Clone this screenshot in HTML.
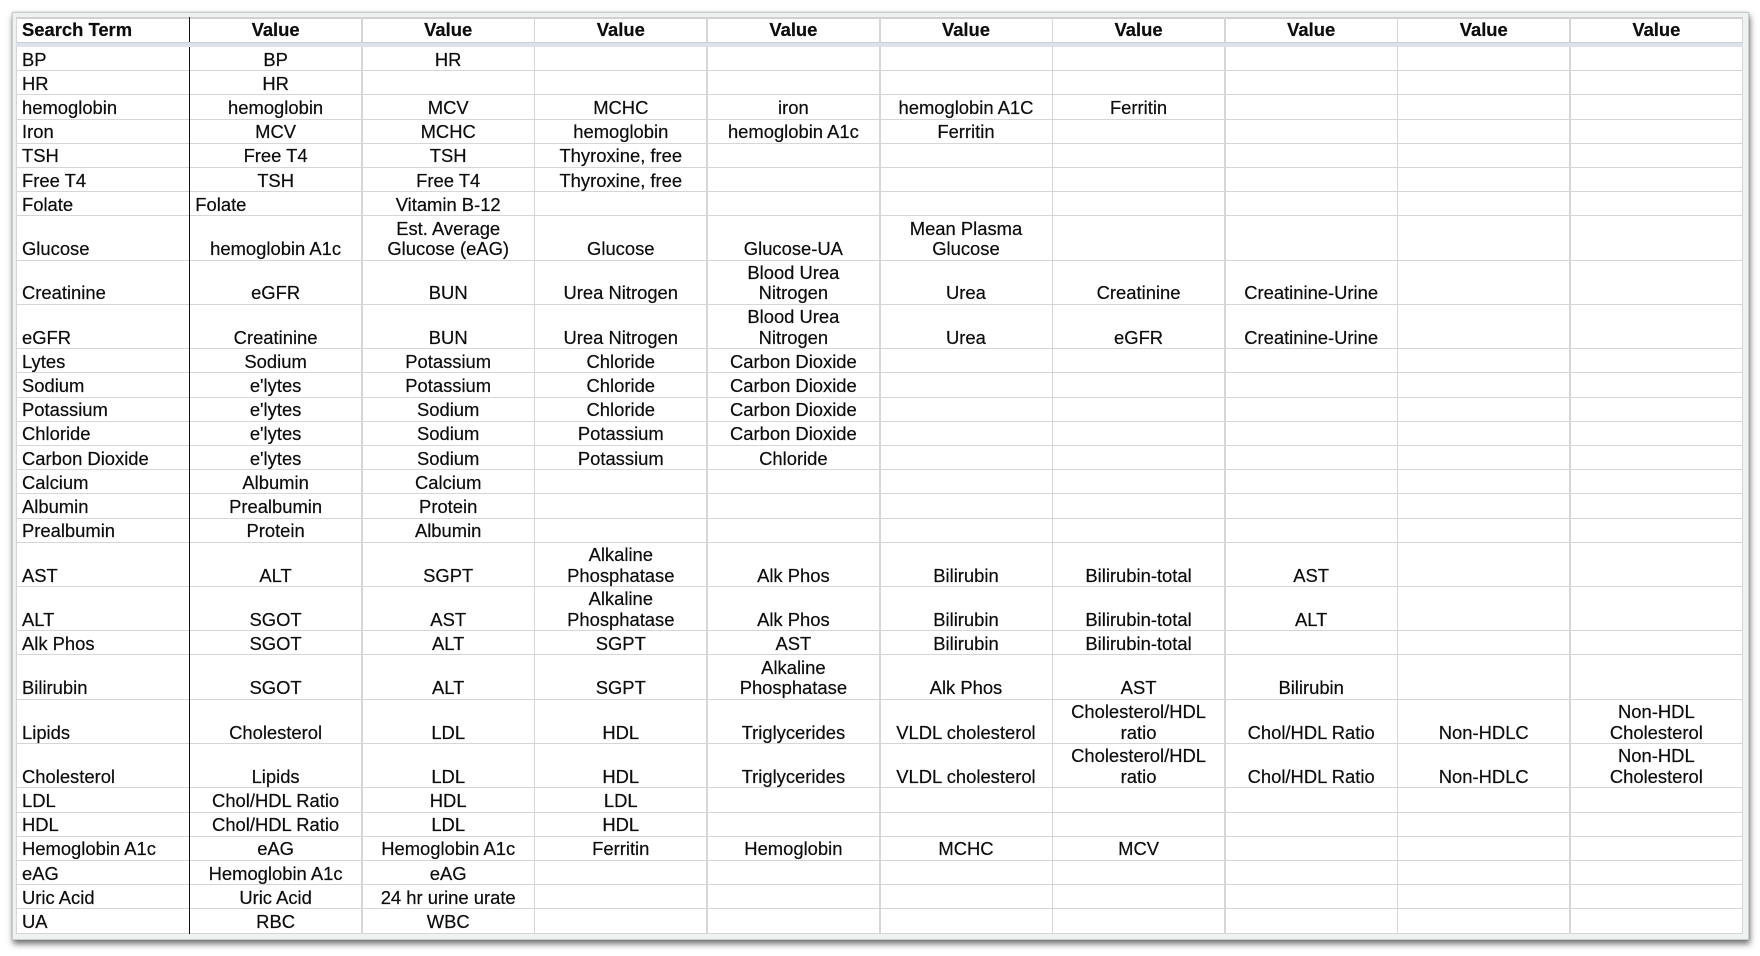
<!DOCTYPE html>
<html>
<head>
<meta charset="utf-8">
<style>
html,body{margin:0;padding:0;background:#fff;}
body{width:1760px;height:956px;position:relative;overflow:hidden;font-family:"Liberation Sans",Arial,sans-serif;color:#0d0d0d;}
#card{position:absolute;left:12px;top:12px;width:1737px;height:928px;background:#eef2f1;border:1px solid #c9cdcc;box-sizing:border-box;box-shadow:1px 4px 6px rgba(0,0,0,0.55), 0 0 2px rgba(0,0,0,0.2);}
#tbl{position:absolute;left:16px;top:17px;width:1727px;height:917px;background:#fff;}
.hdr{position:absolute;left:0;top:0;width:1727px;height:24.5px;display:flex;align-items:flex-end;font-weight:bold;}
.band{position:absolute;left:0;top:24.5px;width:1727px;height:5.5px;background:#dde1e9;border-top:1px solid #cbced6;box-sizing:border-box;z-index:3;}
.rows{position:absolute;left:0;top:30px;width:1727px;}
.r{display:flex;align-items:flex-end;height:24.2px;border-bottom:1.5px solid #d6d6d6;box-sizing:border-box;}
.r.d{height:44.3px;}
.c{width:172.6px;flex:none;text-align:center;white-space:nowrap;font-size:18.4px;line-height:20.5px;box-sizing:border-box;padding:0 4px;-webkit-text-stroke:0.2px #0d0d0d;}
.c.f{width:173.3px;text-align:left;padding-left:6px;}
.c.l{text-align:left;padding-left:6px;}
.hdr .c{padding-bottom:1px;}
.vl{position:absolute;top:0;width:1.5px;height:917px;background:#d6d6d6;z-index:2;}
.vb{position:absolute;top:0;width:1.6px;height:917px;background:#111;z-index:2;}
.hl{position:absolute;left:0;top:0;width:1727px;height:1.5px;background:#d0d0d0;z-index:2;}
</style>
</head>
<body>
<div id="card"></div>
<div id="tbl">
  <div class="hl"></div>
  <div class="vl" style="left:-0.5px"></div>
  <div class="vb" style="left:172.5px"></div>
  <div class="vl" style="left:345.2px"></div>
  <div class="vl" style="left:517.8px"></div>
  <div class="vl" style="left:690.4px"></div>
  <div class="vl" style="left:863.0px"></div>
  <div class="vl" style="left:1035.6px"></div>
  <div class="vl" style="left:1208.2px"></div>
  <div class="vl" style="left:1380.8px"></div>
  <div class="vl" style="left:1553.4px"></div>
  <div class="vl" style="left:1725.5px"></div>

  <div class="hdr">
    <div class="c f">Search Term</div><div class="c">Value</div><div class="c">Value</div><div class="c">Value</div><div class="c">Value</div><div class="c">Value</div><div class="c">Value</div><div class="c">Value</div><div class="c">Value</div><div class="c">Value</div>
  </div>
  <div class="band"></div>

  <div class="rows">
    <div class="r"><div class="c f">BP</div><div class="c">BP</div><div class="c">HR</div><div class="c"></div><div class="c"></div><div class="c"></div><div class="c"></div><div class="c"></div><div class="c"></div><div class="c"></div></div>
    <div class="r"><div class="c f">HR</div><div class="c">HR</div><div class="c"></div><div class="c"></div><div class="c"></div><div class="c"></div><div class="c"></div><div class="c"></div><div class="c"></div><div class="c"></div></div>
    <div class="r"><div class="c f">hemoglobin</div><div class="c">hemoglobin</div><div class="c">MCV</div><div class="c">MCHC</div><div class="c">iron</div><div class="c">hemoglobin A1C</div><div class="c">Ferritin</div><div class="c"></div><div class="c"></div><div class="c"></div></div>
    <div class="r"><div class="c f">Iron</div><div class="c">MCV</div><div class="c">MCHC</div><div class="c">hemoglobin</div><div class="c">hemoglobin A1c</div><div class="c">Ferritin</div><div class="c"></div><div class="c"></div><div class="c"></div><div class="c"></div></div>
    <div class="r"><div class="c f">TSH</div><div class="c">Free T4</div><div class="c">TSH</div><div class="c">Thyroxine, free</div><div class="c"></div><div class="c"></div><div class="c"></div><div class="c"></div><div class="c"></div><div class="c"></div></div>
    <div class="r"><div class="c f">Free T4</div><div class="c">TSH</div><div class="c">Free T4</div><div class="c">Thyroxine, free</div><div class="c"></div><div class="c"></div><div class="c"></div><div class="c"></div><div class="c"></div><div class="c"></div></div>
    <div class="r"><div class="c f">Folate</div><div class="c l">Folate</div><div class="c">Vitamin B-12</div><div class="c"></div><div class="c"></div><div class="c"></div><div class="c"></div><div class="c"></div><div class="c"></div><div class="c"></div></div>
    <div class="r d"><div class="c f">Glucose</div><div class="c">hemoglobin A1c</div><div class="c">Est. Average<br>Glucose (eAG)</div><div class="c">Glucose</div><div class="c">Glucose-UA</div><div class="c">Mean Plasma<br>Glucose</div><div class="c"></div><div class="c"></div><div class="c"></div><div class="c"></div></div>
    <div class="r d"><div class="c f">Creatinine</div><div class="c">eGFR</div><div class="c">BUN</div><div class="c">Urea Nitrogen</div><div class="c">Blood Urea<br>Nitrogen</div><div class="c">Urea</div><div class="c">Creatinine</div><div class="c">Creatinine-Urine</div><div class="c"></div><div class="c"></div></div>
    <div class="r d"><div class="c f">eGFR</div><div class="c">Creatinine</div><div class="c">BUN</div><div class="c">Urea Nitrogen</div><div class="c">Blood Urea<br>Nitrogen</div><div class="c">Urea</div><div class="c">eGFR</div><div class="c">Creatinine-Urine</div><div class="c"></div><div class="c"></div></div>
    <div class="r"><div class="c f">Lytes</div><div class="c">Sodium</div><div class="c">Potassium</div><div class="c">Chloride</div><div class="c">Carbon Dioxide</div><div class="c"></div><div class="c"></div><div class="c"></div><div class="c"></div><div class="c"></div></div>
    <div class="r"><div class="c f">Sodium</div><div class="c">e'lytes</div><div class="c">Potassium</div><div class="c">Chloride</div><div class="c">Carbon Dioxide</div><div class="c"></div><div class="c"></div><div class="c"></div><div class="c"></div><div class="c"></div></div>
    <div class="r"><div class="c f">Potassium</div><div class="c">e'lytes</div><div class="c">Sodium</div><div class="c">Chloride</div><div class="c">Carbon Dioxide</div><div class="c"></div><div class="c"></div><div class="c"></div><div class="c"></div><div class="c"></div></div>
    <div class="r"><div class="c f">Chloride</div><div class="c">e'lytes</div><div class="c">Sodium</div><div class="c">Potassium</div><div class="c">Carbon Dioxide</div><div class="c"></div><div class="c"></div><div class="c"></div><div class="c"></div><div class="c"></div></div>
    <div class="r"><div class="c f">Carbon Dioxide</div><div class="c">e'lytes</div><div class="c">Sodium</div><div class="c">Potassium</div><div class="c">Chloride</div><div class="c"></div><div class="c"></div><div class="c"></div><div class="c"></div><div class="c"></div></div>
    <div class="r"><div class="c f">Calcium</div><div class="c">Albumin</div><div class="c">Calcium</div><div class="c"></div><div class="c"></div><div class="c"></div><div class="c"></div><div class="c"></div><div class="c"></div><div class="c"></div></div>
    <div class="r"><div class="c f">Albumin</div><div class="c">Prealbumin</div><div class="c">Protein</div><div class="c"></div><div class="c"></div><div class="c"></div><div class="c"></div><div class="c"></div><div class="c"></div><div class="c"></div></div>
    <div class="r"><div class="c f">Prealbumin</div><div class="c">Protein</div><div class="c">Albumin</div><div class="c"></div><div class="c"></div><div class="c"></div><div class="c"></div><div class="c"></div><div class="c"></div><div class="c"></div></div>
    <div class="r d"><div class="c f">AST</div><div class="c">ALT</div><div class="c">SGPT</div><div class="c">Alkaline<br>Phosphatase</div><div class="c">Alk Phos</div><div class="c">Bilirubin</div><div class="c">Bilirubin-total</div><div class="c">AST</div><div class="c"></div><div class="c"></div></div>
    <div class="r d"><div class="c f">ALT</div><div class="c">SGOT</div><div class="c">AST</div><div class="c">Alkaline<br>Phosphatase</div><div class="c">Alk Phos</div><div class="c">Bilirubin</div><div class="c">Bilirubin-total</div><div class="c">ALT</div><div class="c"></div><div class="c"></div></div>
    <div class="r"><div class="c f">Alk Phos</div><div class="c">SGOT</div><div class="c">ALT</div><div class="c">SGPT</div><div class="c">AST</div><div class="c">Bilirubin</div><div class="c">Bilirubin-total</div><div class="c"></div><div class="c"></div><div class="c"></div></div>
    <div class="r d"><div class="c f">Bilirubin</div><div class="c">SGOT</div><div class="c">ALT</div><div class="c">SGPT</div><div class="c">Alkaline<br>Phosphatase</div><div class="c">Alk Phos</div><div class="c">AST</div><div class="c">Bilirubin</div><div class="c"></div><div class="c"></div></div>
    <div class="r d"><div class="c f">Lipids</div><div class="c">Cholesterol</div><div class="c">LDL</div><div class="c">HDL</div><div class="c">Triglycerides</div><div class="c">VLDL cholesterol</div><div class="c">Cholesterol/HDL<br>ratio</div><div class="c">Chol/HDL Ratio</div><div class="c">Non-HDLC</div><div class="c">Non-HDL<br>Cholesterol</div></div>
    <div class="r d"><div class="c f">Cholesterol</div><div class="c">Lipids</div><div class="c">LDL</div><div class="c">HDL</div><div class="c">Triglycerides</div><div class="c">VLDL cholesterol</div><div class="c">Cholesterol/HDL<br>ratio</div><div class="c">Chol/HDL Ratio</div><div class="c">Non-HDLC</div><div class="c">Non-HDL<br>Cholesterol</div></div>
    <div class="r"><div class="c f">LDL</div><div class="c">Chol/HDL Ratio</div><div class="c">HDL</div><div class="c">LDL</div><div class="c"></div><div class="c"></div><div class="c"></div><div class="c"></div><div class="c"></div><div class="c"></div></div>
    <div class="r"><div class="c f">HDL</div><div class="c">Chol/HDL Ratio</div><div class="c">LDL</div><div class="c">HDL</div><div class="c"></div><div class="c"></div><div class="c"></div><div class="c"></div><div class="c"></div><div class="c"></div></div>
    <div class="r"><div class="c f">Hemoglobin A1c</div><div class="c">eAG</div><div class="c">Hemoglobin A1c</div><div class="c">Ferritin</div><div class="c">Hemoglobin</div><div class="c">MCHC</div><div class="c">MCV</div><div class="c"></div><div class="c"></div><div class="c"></div></div>
    <div class="r"><div class="c f">eAG</div><div class="c">Hemoglobin A1c</div><div class="c">eAG</div><div class="c"></div><div class="c"></div><div class="c"></div><div class="c"></div><div class="c"></div><div class="c"></div><div class="c"></div></div>
    <div class="r"><div class="c f">Uric Acid</div><div class="c">Uric Acid</div><div class="c">24 hr urine urate</div><div class="c"></div><div class="c"></div><div class="c"></div><div class="c"></div><div class="c"></div><div class="c"></div><div class="c"></div></div>
    <div class="r"><div class="c f">UA</div><div class="c">RBC</div><div class="c">WBC</div><div class="c"></div><div class="c"></div><div class="c"></div><div class="c"></div><div class="c"></div><div class="c"></div><div class="c"></div></div>
  </div>
</div>
</body>
</html>
